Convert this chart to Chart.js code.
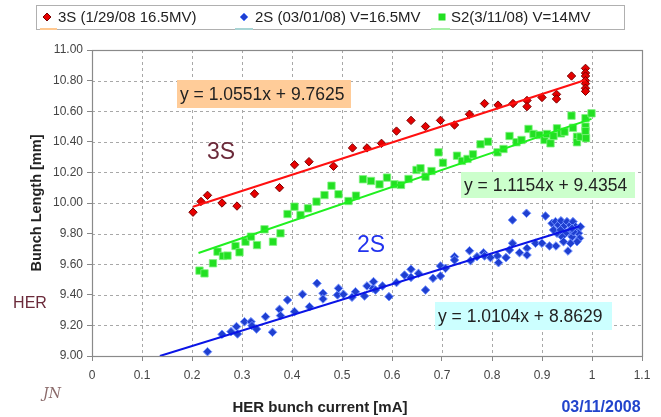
<!DOCTYPE html>
<html><head><meta charset="utf-8">
<script src="https://cdn.jsdelivr.net/npm/chart.js@4/dist/chart.umd.min.js"></script>
<style>html,body{margin:0;padding:0;background:#fff;}canvas{display:block;}</style>
</head><body>
<canvas id="c" width="661" height="417"></canvas>
<script>
// ---- Data ----
const seriesNames = ['3S (1/29/08 16.5MV)', '2S (03/01/08) V=16.5MV', 'S2(3/11/08) V=14MV'];

const s3S_x = [0.202,0.218,0.231,0.26,0.29,0.325,0.375,0.405,0.434,0.483,0.521,0.55,0.579,0.609,0.638,0.667,0.697,0.725,0.755,0.785,0.812,0.842,0.87,0.87,0.9,0.929,0.929,0.959,0.987,0.987,0.987,0.987,0.987,0.987,0.987];
const s3S_y = [9.94,10.01,10.05,10.00,9.98,10.06,10.10,10.25,10.27,10.24,10.36,10.36,10.39,10.47,10.54,10.50,10.54,10.51,10.58,10.65,10.64,10.65,10.67,10.63,10.69,10.71,10.68,10.83,10.88,10.85,10.83,10.80,10.78,10.75,10.73];

const s2S_x = [0.231,0.26,0.278,0.289,0.291,0.305,0.318,0.32,0.329,0.347,0.361,0.375,0.377,0.391,0.405,0.421,0.435,0.45,0.462,0.462,0.491,0.493,0.503,0.52,0.527,0.545,0.55,0.562,0.563,0.567,0.581,0.594,0.609,0.625,0.638,0.638,0.653,0.667,0.682,0.697,0.697,0.707,0.725,0.725,0.755,0.757,0.77,0.783,0.785,0.797,0.811,0.813,0.828,0.835,0.841,0.841,0.855,0.869,0.87,0.87,0.887,0.9,0.907,0.915,0.928,0.952,0.92,0.927,0.933,0.938,0.943,0.95,0.957,0.962,0.967,0.97,0.973,0.975,0.97,0.96,0.953,0.947,0.94,0.93,0.923,0.963,0.957,0.943,0.977,0.937,0.96];
const s2S_y = [9.028,9.142,9.159,9.192,9.144,9.224,9.224,9.198,9.176,9.257,9.155,9.305,9.264,9.366,9.29,9.403,9.322,9.475,9.41,9.373,9.399,9.442,9.403,9.384,9.42,9.392,9.458,9.442,9.486,9.431,9.458,9.388,9.48,9.529,9.567,9.514,9.54,9.431,9.508,9.588,9.523,9.573,9.649,9.627,9.688,9.623,9.649,9.675,9.654,9.643,9.654,9.61,9.643,9.693,9.889,9.737,9.675,9.933,9.704,9.66,9.737,9.737,9.915,9.719,9.719,9.686,9.867,9.878,9.856,9.884,9.845,9.878,9.856,9.878,9.845,9.824,9.802,9.769,9.747,9.78,9.812,9.802,9.78,9.802,9.824,9.812,9.737,9.747,9.845,9.824,9.834];

const sS2_x = [0.215,0.225,0.242,0.251,0.262,0.271,0.287,0.295,0.307,0.318,0.33,0.345,0.362,0.377,0.391,0.405,0.417,0.432,0.449,0.465,0.479,0.493,0.513,0.528,0.542,0.558,0.575,0.59,0.605,0.618,0.633,0.649,0.657,0.667,0.679,0.693,0.702,0.73,0.74,0.751,0.762,0.777,0.792,0.811,0.823,0.835,0.849,0.859,0.873,0.883,0.895,0.905,0.91,0.917,0.923,0.93,0.938,0.945,0.959,0.962,0.97,0.97,0.977,0.987,0.987,0.987,0.988,0.999];
const sS2_y = [9.558,9.54,9.606,9.682,9.654,9.656,9.719,9.678,9.747,9.78,9.725,9.828,9.747,9.802,9.928,9.976,9.922,9.965,10.009,10.052,10.113,10.057,10.013,10.048,10.155,10.144,10.122,10.166,10.122,10.118,10.157,10.216,10.227,10.172,10.209,10.331,10.263,10.309,10.275,10.288,10.318,10.384,10.401,10.331,10.353,10.438,10.397,10.412,10.484,10.451,10.444,10.412,10.451,10.39,10.438,10.488,10.455,10.466,10.571,10.492,10.433,10.397,10.433,10.554,10.499,10.47,10.423,10.586];

// Linear trendlines (slope, intercept) and the x-range they are drawn over
const fit3S = [1.0551, 9.7625];  const fit3S_range = [0.202, 0.987];
const fitS2 = [1.1154, 9.4354];  const fitS2_range = [0.213, 0.999];
const fit2S = [1.0104, 8.8629];  const fit2S_range = [0.1357, 0.975];

const xTicks = [0,0.1,0.2,0.3,0.4,0.5,0.6,0.7,0.8,0.9,1.0,1.1];
const xTickLabels = ['0','0.1','0.2','0.3','0.4','0.5','0.6','0.7','0.8','0.9','1','1.1'];
const yTicks = [9.0,9.2,9.4,9.6,9.8,10.0,10.2,10.4,10.6,10.8,11.0];
const yTickLabels = ['9.00','9.20','9.40','9.60','9.80','10.00','10.20','10.40','10.60','10.80','11.00'];

// ---- build chart ----
const pts = (xs, ys) => xs.map((x, i) => ({x, y: ys[i]}));
const line = (fit, r) => r.map(x => ({x, y: fit[0] * x + fit[1]}));
const eqText = fit => 'y = ' + fit[0].toFixed(4) + 'x + ' + fit[1].toFixed(4);

const FONT = '"Liberation Sans", Arial, sans-serif';

const extras = {
  id: 'extras',
  beforeDatasetsDraw(chart) {
    // dashed grid lines inside the plot area
    const ctx = chart.ctx, a = chart.chartArea, sx = chart.scales.x, sy = chart.scales.y;
    ctx.save();
    ctx.strokeStyle = '#a8a8a8'; ctx.lineWidth = 1; ctx.setLineDash([3, 3]);
    xTicks.forEach(v => {
      const px = Math.round(sx.getPixelForValue(v)) + 0.5;
      ctx.beginPath(); ctx.moveTo(px, a.top); ctx.lineTo(px, a.bottom); ctx.stroke();
    });
    yTicks.forEach(v => {
      const py = Math.round(sy.getPixelForValue(v)) + 0.5;
      ctx.beginPath(); ctx.moveTo(a.left, py); ctx.lineTo(a.right, py); ctx.stroke();
    });
    ctx.restore();
  },
  afterDraw(chart) {
    const ctx = chart.ctx, a = chart.chartArea;
    ctx.save();
    // plot frame
    ctx.strokeStyle = '#8a8a8a'; ctx.lineWidth = 1.2; ctx.setLineDash([]);
    ctx.strokeRect(a.left + 0.5, a.top + 0.5, a.right - a.left, a.bottom - a.top);

    // legend
    ctx.strokeStyle = '#b0b0b0'; ctx.lineWidth = 1;
    ctx.strokeRect(36.5, 5.5, 588, 24);
    ctx.lineWidth = 2;
    [['#ffc890', 40, 57], ['#a8d4d4', 235, 253], ['#a8f0a8', 431, 450]].forEach(s => {
      ctx.strokeStyle = s[0]; ctx.beginPath(); ctx.moveTo(s[1], 29); ctx.lineTo(s[2], 29); ctx.stroke();
    });
    const diamond = (x, y, r, fill, stroke) => {
      ctx.beginPath(); ctx.moveTo(x, y - r); ctx.lineTo(x + r, y); ctx.lineTo(x, y + r); ctx.lineTo(x - r, y); ctx.closePath();
      ctx.fillStyle = fill; ctx.fill(); ctx.strokeStyle = stroke; ctx.lineWidth = 1; ctx.stroke();
    };
    diamond(47, 17, 4, '#e60000', '#7a0000');
    diamond(244, 17, 4, '#1f3fd0', '#6a8cff');
    ctx.fillStyle = '#22e022'; ctx.fillRect(438.5, 13.5, 7, 7);
    ctx.fillStyle = '#222'; ctx.font = '15px ' + FONT; ctx.textBaseline = 'middle'; ctx.textAlign = 'left';
    ctx.fillText(seriesNames[0], 58, 17.5);
    ctx.fillText(seriesNames[1], 255, 17.5);
    ctx.fillText(seriesNames[2], 451, 17.5);

    // equation boxes
    const box = (x1, y1, x2, y2, bg, text) => {
      ctx.fillStyle = bg; ctx.fillRect(x1, y1, x2 - x1, y2 - y1);
      ctx.fillStyle = '#222'; ctx.font = '17.5px ' + FONT; ctx.textAlign = 'left'; ctx.textBaseline = 'middle';
      ctx.fillText(text, x1 + 3, (y1 + y2) / 2 + 1);
    };
    box(177, 80, 351, 108, '#ffcc99', eqText(fit3S));
    box(461, 172, 635, 198, '#ccffcc', eqText(fitS2));
    box(435, 302, 612, 330, '#ccffff', eqText(fit2S));

    // series labels
    ctx.font = '23px ' + FONT; ctx.textAlign = 'center';
    ctx.fillStyle = '#6b2a3a'; ctx.fillText('3S', 221, 153);
    ctx.fillStyle = '#2233ee'; ctx.fillText('2S', 371, 246);
    ctx.font = '16px ' + FONT; ctx.fillStyle = '#6b2a3a'; ctx.fillText('HER', 30, 304);

    // axis titles
    ctx.fillStyle = '#222'; ctx.font = 'bold 15px ' + FONT;
    ctx.fillText('HER bunch current [mA]', 320, 408);
    ctx.save(); ctx.translate(37, 203); ctx.rotate(-Math.PI / 2);
    ctx.font = 'bold 14.5px ' + FONT; ctx.fillText('Bunch Length [mm]', 0, 0); ctx.restore();

    // date and signature
    ctx.fillStyle = '#2244cc'; ctx.font = 'bold 16px ' + FONT; ctx.fillText('03/11/2008', 601, 408);
    ctx.fillStyle = '#8a6a6a'; ctx.font = 'italic 14px "DejaVu Serif", serif'; ctx.fillText('JN', 52, 394);
    ctx.restore();
  }
};

new Chart(document.getElementById('c'), {
  type: 'scatter',
  data: {
    datasets: [
      {label: 'fit3S', data: line(fit3S, fit3S_range), showLine: true, borderColor: '#ff1010', borderWidth: 2, pointRadius: 0},
      {label: 'fitS2', data: line(fitS2, fitS2_range), showLine: true, borderColor: '#20f020', borderWidth: 2, pointRadius: 0},
      {label: 'fit2S', data: line(fit2S, fit2S_range), showLine: true, borderColor: '#0a14e6', borderWidth: 2, pointRadius: 0},
      {label: seriesNames[0], data: pts(s3S_x, s3S_y), pointStyle: 'rectRot', pointRadius: 4.2, backgroundColor: '#e60000', borderColor: '#7a0000', borderWidth: 1},
      {label: seriesNames[2], data: pts(sS2_x, sS2_y), pointStyle: 'rect', pointRadius: 5.2, backgroundColor: '#22e022', borderColor: '#7cf27c', borderWidth: 0.8},
      {label: seriesNames[1], data: pts(s2S_x, s2S_y), pointStyle: 'rectRot', pointRadius: 4.3, backgroundColor: '#1f3fd0', borderColor: '#7090ff', borderWidth: 1}
    ]
  },
  options: {
    responsive: false, animation: false, devicePixelRatio: 1,
    layout: {padding: {left: 0, right: 19, top: 50, bottom: 0}},
    plugins: {legend: {display: false}, tooltip: {enabled: false}},
    scales: {
      x: {
        type: 'linear', min: 0, max: 1.1,
        afterFit: s => { s.height = 61; },
        afterBuildTicks: s => { s.ticks = xTicks.map(v => ({value: v})); },
        ticks: {callback: (v, i) => xTickLabels[i], font: {size: 12, family: FONT}, color: '#444', padding: 7, maxRotation: 0, autoSkip: false},
        grid: {drawOnChartArea: false, color: '#888', lineWidth: 1, tickLength: 5, tickColor: '#888', tickBorderDash: [], tickWidth: 1},
        border: {display: false}
      },
      y: {
        type: 'linear', min: 9, max: 11,
        afterFit: s => { s.width = 92; },
        afterBuildTicks: s => { s.ticks = yTicks.map(v => ({value: v})); },
        ticks: {callback: (v, i) => yTickLabels[i], font: {size: 12, family: FONT}, color: '#444', padding: 4, autoSkip: false},
        grid: {drawOnChartArea: false, color: '#888', lineWidth: 1, tickLength: 5, tickColor: '#888', tickBorderDash: [], tickWidth: 1},
        border: {display: false}
      }
    }
  },
  plugins: [extras]
});
</script>
</body></html>
